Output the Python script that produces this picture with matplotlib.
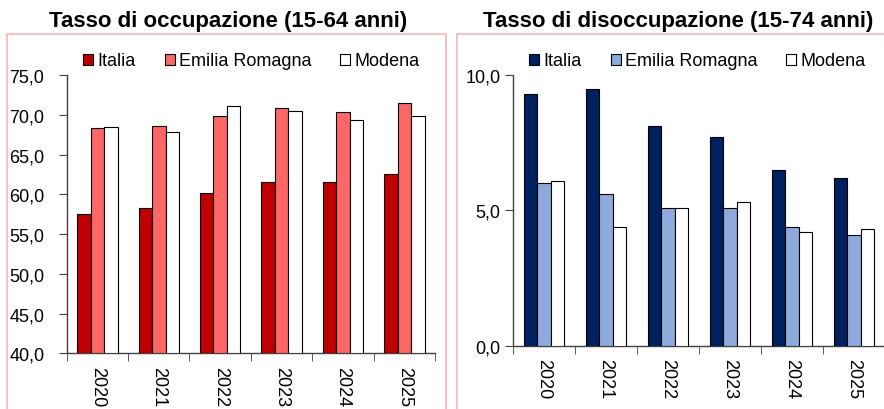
import matplotlib
matplotlib.use("Agg")
import matplotlib.pyplot as plt
import numpy as np
from matplotlib.patches import Rectangle

plt.rcParams['font.family'] = ['Liberation Sans', 'DejaVu Sans']

years = ["2020", "2021", "2022", "2023", "2024", "2025"]
series = ["Italia", "Emilia Romagna", "Modena"]

occ_italia = [57.5, 58.3, 60.2, 61.6, 61.6, 62.6]
occ_emilia = [68.3, 68.6, 69.8, 70.8, 70.4, 71.5]
occ_modena = [68.4, 67.8, 71.1, 70.5, 69.4, 69.8]

dis_italia = [9.3, 9.5, 8.1, 7.7, 6.5, 6.2]
dis_emilia = [6.0, 5.6, 5.1, 5.1, 4.4, 4.1]
dis_modena = [6.1, 4.4, 5.1, 5.3, 4.2, 4.3]

occ_colors = ["#C00000", "#FF6666", "#FFFFFF"]
dis_colors = ["#002060", "#8EA9DB", "#FFFFFF"]

W, H = 884, 410
fig = plt.figure(figsize=(W / 100, H / 100), dpi=100)


def px_axes(x0, y_top, x1, y_bot):
    return fig.add_axes([x0 / W, 1 - y_bot / H, (x1 - x0) / W, (y_bot - y_top) / H])


def fmt(v):
    return f"{v:.1f}".replace(".", ",")


def draw(ax, data, colors, ylim, yticks, ypad):
    x = np.arange(len(years))
    bw = 0.22
    for i, (vals, c) in enumerate(zip(data, colors)):
        bottom = ylim[0]
        ax.bar(x + (i - 1) * bw, np.array(vals) - bottom, bw, bottom=bottom,
               color=c, edgecolor="black", linewidth=0.8, label=series[i], zorder=3)
    ax.set_xlim(-0.5, len(years) - 0.5)
    ax.set_ylim(*ylim)
    ax.set_yticks(yticks)
    ax.set_yticklabels([fmt(v) for v in yticks], fontsize=13)
    ax.set_xticks(x)
    ax.set_xticklabels(years, rotation=-90, fontsize=13)
    ax.set_xticks(np.arange(len(years) + 1) - 0.5, minor=True)
    ax.tick_params(axis="x", which="major", length=0, pad=9)
    ax.tick_params(axis="x", which="minor", length=6, direction="out", color="#404040")
    ax.tick_params(axis="y", length=6, direction="out", color="#404040", pad=ypad)
    for s in ["top", "right"]:
        ax.spines[s].set_visible(False)
    for s in ["left", "bottom"]:
        ax.spines[s].set_color("#404040")
        ax.spines[s].set_linewidth(1.0)
    ax.set_facecolor("none")


ax1 = px_axes(66.7, 76, 435, 354.3)
draw(ax1, [occ_italia, occ_emilia, occ_modena], occ_colors, (40, 75),
     [40, 45, 50, 55, 60, 65, 70, 75], 10)

ax2 = px_axes(513, 76, 885, 346.7)
draw(ax2, [dis_italia, dis_emilia, dis_modena], dis_colors, (0, 10),
     [0, 5, 10], 3)

for ax, cx in [(ax1, 251.5), (ax2, 697.5)]:
    ax.legend(loc="center", bbox_to_anchor=(cx / W, 1 - 62 / H),
              bbox_transform=fig.transFigure, ncol=3, frameon=False,
              fontsize=13, handlelength=0.55, handleheight=0.55,
              handletextpad=0.25, columnspacing=1.6, borderpad=0, borderaxespad=0)

fig.text(228 / W, 1 - 21 / H, "Tasso di occupazione (15-64 anni)",
         ha="center", va="center", fontsize=16, fontweight="bold")
fig.text(678 / W, 1 - 21 / H, "Tasso di disoccupazione (15-74 anni)",
         ha="center", va="center", fontsize=16, fontweight="bold")

frame_color = "#F6BDBD"
fig.add_artist(Rectangle((7.5 / W, -0.1), (446 - 7.5) / W, 1 - 35 / H + 0.1,
                         transform=fig.transFigure, fill=False,
                         edgecolor=frame_color, linewidth=1.3, zorder=0))
fig.add_artist(Rectangle((457 / W, -0.1), (900 - 457) / W, 1 - 35 / H + 0.1,
                         transform=fig.transFigure, fill=False,
                         edgecolor=frame_color, linewidth=1.3, zorder=0))

fig.savefig("out.png", dpi=100)
